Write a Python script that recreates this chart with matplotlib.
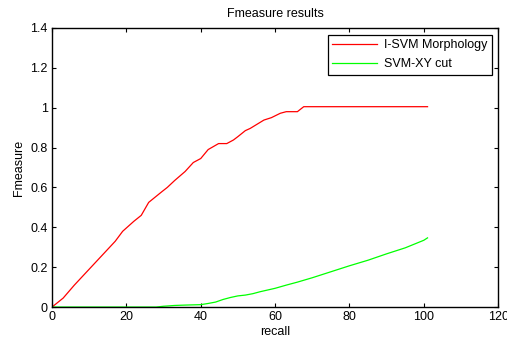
import matplotlib
matplotlib.use("Agg")
import matplotlib.pyplot as plt

plt.rcParams['font.family'] = ['Liberation Sans', 'DejaVu Sans']

red_x = [0, 1, 3, 6, 10, 14, 17, 19, 22, 24, 26, 29.5, 31, 33, 35.8, 38, 40, 42, 44.8, 47, 48.8, 50, 52, 53.3, 55.5, 57, 59, 61.4, 63, 65, 66, 67.7, 70, 80, 90, 101]
red_y = [0, 0.015, 0.045, 0.11, 0.19, 0.27, 0.33, 0.38, 0.43, 0.46, 0.525, 0.578, 0.60, 0.635, 0.68, 0.725, 0.745, 0.79, 0.82, 0.82, 0.838, 0.855, 0.885, 0.896, 0.921, 0.938, 0.95, 0.972, 0.98, 0.98, 0.98, 1.005, 1.005, 1.005, 1.005, 1.005]

green_x = [0, 10, 20, 28, 30, 33, 36, 40, 42, 44, 46, 48, 50, 52, 54, 56, 60, 63, 66, 70, 75, 80, 85, 90, 95, 100, 101]
green_y = [0, 0, 0, 0, 0.004, 0.008, 0.01, 0.012, 0.018, 0.025, 0.038, 0.048, 0.056, 0.06, 0.067, 0.077, 0.094, 0.11, 0.125, 0.147, 0.177, 0.207, 0.235, 0.267, 0.297, 0.335, 0.347]

xticks = [0, 20, 40, 60, 80, 100, 120]
yticks = [0, 0.2, 0.4, 0.6, 0.8, 1, 1.2, 1.4]
yticklabels = ['0', '0.2', '0.4', '0.6', '0.8', '1', '1.2', '1.4']

fig = plt.figure(figsize=(5.07, 3.45), dpi=100)
ax = fig.add_axes([0.1026, 0.110, 0.880, 0.809])
ax.plot(red_x, red_y, color='#ff0000', lw=0.9, label='I-SVM Morphology')
ax.plot(green_x, green_y, color='#00ff00', lw=0.9, label='SVM-XY cut')
ax.set_xlim(0, 120)
ax.set_ylim(0, 1.4)
ax.set_xticks(xticks)
ax.set_yticks(yticks)
ax.set_yticklabels(yticklabels)
ax.tick_params(direction='in', top=True, right=True, length=3, width=0.8, labelsize=9, pad=3)
for s in ax.spines.values():
    s.set_linewidth(1.0)
ax.set_xlabel('recall', fontsize=9, labelpad=2)
ax.set_ylabel('Fmeasure', fontsize=9, labelpad=4)
ax.set_title('Fmeasure results', fontsize=9, pad=8)
leg = ax.legend(loc='upper right', fontsize=9, fancybox=False, edgecolor='black',
                framealpha=1, handlelength=3.6, handletextpad=0.6, borderpad=0.35,
                labelspacing=0.55, borderaxespad=0,
                bbox_to_anchor=(0.9865, 0.975))
leg.get_frame().set_linewidth(0.9)
fig.savefig('out.png', dpi=100)
